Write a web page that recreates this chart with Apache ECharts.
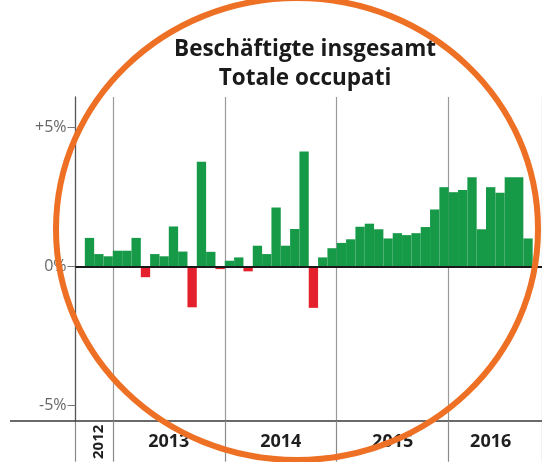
<!DOCTYPE html>
<html>
<head>
<meta charset="utf-8">
<script src="https://cdn.jsdelivr.net/npm/echarts@6/dist/echarts.min.js"></script>
<style>
html,body{margin:0;padding:0;background:#fff;}
#c{width:542px;height:462px;}
</style>
</head>
<body>
<div id="c"></div>
<script>
// Monthly categories (Sep 2012 .. Oct 2016; first and last are empty)
var months = [
  '2012-09','2012-10','2012-11','2012-12',
  '2013-01','2013-02','2013-03','2013-04','2013-05','2013-06','2013-07','2013-08','2013-09','2013-10','2013-11','2013-12',
  '2014-01','2014-02','2014-03','2014-04','2014-05','2014-06','2014-07','2014-08','2014-09','2014-10','2014-11','2014-12',
  '2015-01','2015-02','2015-03','2015-04','2015-05','2015-06','2015-07','2015-08','2015-09','2015-10','2015-11','2015-12',
  '2016-01','2016-02','2016-03','2016-04','2016-05','2016-06','2016-07','2016-08','2016-09','2016-10'
];
// Change in employment, %
var values = [
  null, 1.02, 0.44, 0.36,
  0.56, 0.56, 1.02, -0.39, 0.44, 0.36, 1.43, 0.53, -1.47, 3.75, 0.52, -0.10,
  0.20, 0.32, -0.18, 0.74, 0.44, 2.11, 0.74, 1.34, 4.12, -1.49, 0.32, 0.65,
  0.84, 0.97, 1.42, 1.53, 1.33, 1.00, 1.19, 1.12, 1.19, 1.41, 2.04, 2.84,
  2.66, 2.74, 3.20, 1.33, 2.84, 2.64, 3.20, 3.20, 1.00, null
];
// Year labels and the month they are centred on
var yearLabels = ['2012', '2013', '2014', '2015', '2016'];
var yearLabelMonths = ['2012-11', '2013-07', '2014-07', '2015-07', '2016-05'];
// Full-year labels sit on the Jun/Jul boundary
var yearLabelHalfShift = [false, true, true, true, false];
// Value-axis ticks
var yTicks = [-5, 0, 5];

var green = '#179a48', red = '#e3202b';
var bw = 9.42;

function isYearStart(i) {
  return i === 0 || months[i].slice(5) === '01';
}

var chart = echarts.init(document.getElementById('c'), null, {renderer: 'canvas'});
chart.setOption({
  backgroundColor: '#fff',
  animation: false,
  title: {
    text: 'Beschäftigte insgesamt\nTotale occupati',
    left: 300,
    top: 30,
    textAlign: 'center',
    textStyle: {
      fontFamily: 'Open Sans',
      fontWeight: 'bold',
      fontSize: 22.5,
      lineHeight: 29,
      color: '#1a1a1a'
    }
  },
  grid: {left: 75.5, right: -4.5, top: 97, bottom: 41, containLabel: false},
  xAxis: [{
    type: 'category',
    data: months,
    boundaryGap: true,
    position: 'bottom',
    axisLine: {onZero: false, lineStyle: {color: '#3a3a3a', width: 1.5}},
    axisTick: {
      show: true,
      inside: false,
      length: 41,
      interval: function (i) { return isYearStart(i); },
      lineStyle: {color: '#8a8a8a', width: 1.2}
    },
    splitLine: {
      show: true,
      interval: function (i) { return i !== 0 && isYearStart(i); },
      lineStyle: {color: '#9a9a9a', width: 1.2}
    },
    axisLabel: {
      interval: function (i) {
        var k = yearLabelMonths.indexOf(months[i]);
        return k > 0;
      },
      formatter: function (v) {
        var k = yearLabelMonths.indexOf(v);
        if (k <= 0) return '';
        return yearLabelHalfShift[k] ? '{s|' + yearLabels[k] + '}' : '{n|' + yearLabels[k] + '}';
      },
      margin: 12,
      rich: {
        s: {fontFamily: 'Open Sans', fontWeight: 'bold', fontSize: 18, color: '#1f1f1f', padding: [0, bw, 0, 0]},
        n: {fontFamily: 'Open Sans', fontWeight: 'bold', fontSize: 18, color: '#1f1f1f'}
      }
    }
  }, {
    type: 'category',
    data: months,
    boundaryGap: true,
    position: 'bottom',
    axisLine: {show: false},
    axisTick: {show: false},
    splitLine: {show: false},
    axisLabel: {
      interval: function (i) { return months[i] === yearLabelMonths[0]; },
      formatter: function (v) { return v === yearLabelMonths[0] ? yearLabels[0] : ''; },
      rotate: 90,
      margin: 4,
      fontFamily: 'Open Sans',
      fontWeight: 'bold',
      fontSize: 15,
      color: '#1f1f1f'
    }
  }],
  yAxis: {
    type: 'value',
    min: -5.538,
    max: 6.075,
    axisLine: {show: true, lineStyle: {color: '#555', width: 1.3}},
    axisTick: {show: true, length: 8, customValues: yTicks, lineStyle: {color: '#777', width: 1}},
    splitLine: {show: false},
    axisLabel: {
      customValues: yTicks,
      margin: 9,
      fontFamily: 'Open Sans',
      fontSize: 16,
      color: '#666',
      formatter: function (v) { return (v > 0 ? '+' : '') + v + '%'; }
    }
  },
  series: [{
    type: 'bar',
    data: values,
    barWidth: '100%',
    barCategoryGap: 0,
    itemStyle: {
      color: function (p) { return p.value < 0 ? red : green; }
    },
    markLine: {
      silent: true,
      symbol: 'none',
      label: {show: false},
      lineStyle: {color: '#1a1a1a', width: 2, type: 'solid'},
      data: [{yAxis: 0}]
    }
  }],
  graphic: [
    {type: 'line', shape: {x1: 10, y1: 421, x2: 76, y2: 421}, style: {stroke: '#3a3a3a', lineWidth: 1.5}, z: 10},
    {type: 'ellipse', shape: {cx: 297, cy: 229, rx: 241, ry: 231}, style: {fill: 'none', stroke: '#ee7024', lineWidth: 6}, z: 100}
  ]
});
</script>
</body>
</html>
